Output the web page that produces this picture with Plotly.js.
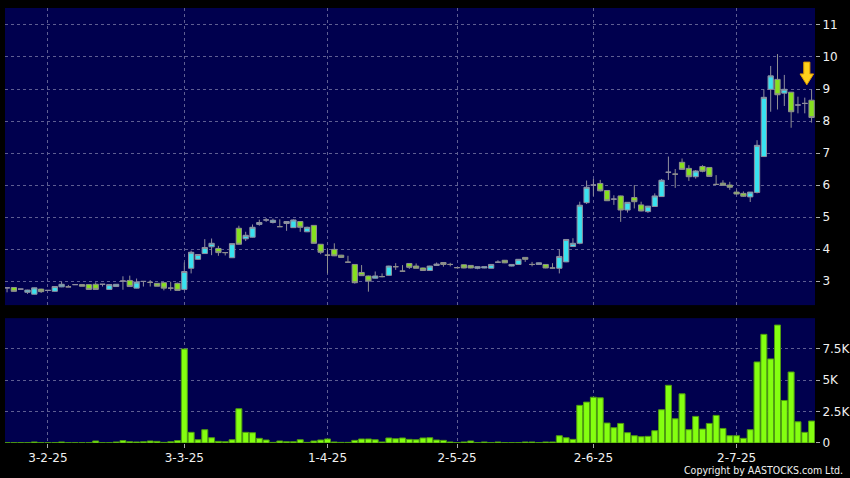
<!DOCTYPE html>
<html>
<head>
<meta charset="utf-8">
<script src="https://cdn.plot.ly/plotly-3.0.1.min.js"></script>
<style>html,body{margin:0;padding:0;background:#000;}#chart{width:850px;height:478px;}</style>
</head>
<body>
<div id="chart"></div>
<script>
// Daily OHLC (trading-day index 0..118)
const openP  = [2.79,2.80,2.75,2.65,2.59,2.75,2.71,2.68,2.82,2.82,2.89,2.89,2.89,2.90,2.90,2.74,2.83,3.00,3.02,2.78,
                2.99,2.96,2.93,2.95,2.78,2.93,2.74,3.40,3.68,3.86,4.07,4.02,3.89,3.73,4.65,4.32,4.37,4.77,4.91,4.83,
                4.70,4.80,4.67,4.86,4.54,4.74,4.15,3.81,3.99,3.81,3.59,3.52,3.27,3.16,3.09,3.14,3.18,3.45,3.31,3.55,
                3.47,3.41,3.33,3.49,3.58,3.52,3.42,3.51,3.49,3.40,3.41,3.40,3.59,3.65,3.47,3.52,3.74,3.52,3.52,3.52,
                3.41,3.40,3.60,4.08,4.18,5.45,6.00,6.05,5.83,5.56,5.66,5.22,5.61,5.38,5.17,5.33,5.64,6.40,6.34,6.71,
                6.52,6.26,6.58,6.55,6.02,6.06,6.00,5.78,5.74,5.63,5.77,6.89,8.99,9.30,8.87,8.90,8.50,8.55,8.65];
const highP  = [2.80,2.81,2.75,2.73,2.80,2.76,2.71,2.84,2.98,2.88,2.89,2.90,2.90,2.96,2.90,2.90,2.91,3.15,3.17,3.08,
                2.99,3.03,2.94,2.96,2.98,2.95,3.58,3.95,3.84,4.31,4.33,4.10,3.89,4.17,4.73,4.54,4.77,4.92,4.97,4.95,
                4.93,4.87,4.93,4.87,4.70,4.75,4.16,4.00,4.18,3.82,3.79,3.53,3.50,3.17,3.30,3.24,3.48,3.56,3.50,3.56,
                3.55,3.42,3.48,3.58,3.59,3.57,3.43,3.52,3.50,3.46,3.46,3.53,3.65,3.66,3.53,3.69,3.75,3.60,3.58,3.53,
                3.56,3.99,4.31,4.34,5.48,6.14,6.19,6.16,5.84,5.68,5.67,5.47,6.00,5.48,5.35,5.74,6.19,6.89,6.50,6.83,
                6.62,6.47,6.62,6.56,6.31,6.15,6.10,5.85,5.80,5.78,7.40,8.99,9.72,10.09,9.44,8.91,8.76,8.73,8.99];
const lowP   = [2.65,2.67,2.75,2.60,2.58,2.63,2.71,2.67,2.81,2.82,2.89,2.84,2.74,2.74,2.83,2.73,2.82,2.73,2.83,2.77,
                2.83,2.83,2.84,2.71,2.70,2.71,2.71,3.24,3.66,3.85,3.81,3.79,3.80,3.72,4.14,4.25,4.36,4.73,4.85,4.80,
                4.70,4.57,4.66,4.54,4.53,4.17,3.84,3.24,3.78,3.72,3.59,2.92,3.16,2.67,3.08,3.12,3.17,3.35,3.31,3.38,
                3.40,3.32,3.32,3.48,3.45,3.46,3.41,3.40,3.40,3.37,3.40,3.39,3.59,3.56,3.46,3.51,3.60,3.46,3.51,3.40,
                3.40,3.24,3.59,4.07,4.15,5.41,5.66,5.80,5.50,5.38,4.85,5.14,5.27,5.18,5.13,5.32,5.63,6.16,5.91,6.48,
                6.13,6.20,6.40,6.26,6.00,5.98,5.85,5.70,5.63,5.47,5.74,6.88,8.29,8.36,8.47,7.79,8.24,8.24,7.95];
const closeP = [2.79,2.68,2.75,2.72,2.79,2.67,2.71,2.83,2.90,2.82,2.89,2.84,2.74,2.74,2.90,2.89,2.90,3.00,2.83,2.97,
                2.99,2.96,2.84,2.78,2.78,2.71,3.30,3.90,3.83,4.05,4.18,3.89,3.89,4.17,4.15,4.43,4.68,4.83,4.91,4.90,
                4.70,4.86,4.91,4.68,4.68,4.18,3.90,3.81,3.79,3.74,3.59,2.95,3.17,3.00,3.16,3.14,3.47,3.45,3.31,3.43,
                3.40,3.33,3.47,3.53,3.52,3.52,3.42,3.41,3.41,3.45,3.45,3.52,3.59,3.57,3.52,3.68,3.68,3.52,3.57,3.41,
                3.41,3.77,4.30,4.18,5.37,5.93,6.00,5.82,5.51,5.56,5.22,5.46,5.48,5.19,5.34,5.66,6.15,6.40,6.34,6.49,
                6.26,6.44,6.43,6.27,6.02,5.99,5.93,5.72,5.65,5.78,7.24,8.74,9.41,8.82,8.99,8.29,8.50,8.55,8.11];
// Daily volume (shares)
const volume = [20,20,30,20,80,20,20,30,80,20,20,20,20,160,20,20,80,190,100,80,
                100,160,130,50,100,190,7490,850,260,1060,420,130,100,260,2730,850,820,370,240,50,
                160,100,100,260,50,160,240,320,80,50,50,210,320,320,260,80,400,340,400,290,
                260,400,420,240,210,80,30,80,160,30,80,30,80,30,30,30,80,80,30,80,
                80,580,420,290,3000,3260,3650,3600,1590,1220,1560,820,580,500,530,980,2650,4600,1930,3920,
                1060,2120,1110,1560,2200,1160,580,580,370,1060,6460,8660,6700,9400,3390,5660,1690,850,1750];
// Axis ticks
const dateTickIdx  = [6,26,47,66,86,107];
const dateTickText = ['3-2-25','3-3-25','1-4-25','2-5-25','2-6-25','2-7-25'];
const priceTicks   = [3,4,5,6,7,8,9,10,11];
const volTickVals  = [0,2500,5000,7500];
const volTickText  = ['0','2.5K','5K','7.5K'];

const dayIdx = openP.map((_, i) => i);

const gridCol = '#5e5e92';
const font = {family: 'DejaVu Sans, sans-serif', size: 12, color: '#f0f0f0'};

const candles = {
  type: 'candlestick', x: dayIdx, open: openP, high: highP, low: lowP, close: closeP,
  xaxis: 'x', yaxis: 'y',
  increasing: {line: {color: '#8f8f9f', width: 1}, fillcolor: '#38e2f0'},
  decreasing: {line: {color: '#8f8f8f', width: 1}, fillcolor: '#86e01e'},
  whiskerwidth: 0, hoverinfo: 'skip'
};
const vols = {
  type: 'bar', x: dayIdx, y: volume, xaxis: 'x', yaxis: 'y2',
  marker: {color: '#84ff10', line: {color: '#4f9c10', width: 1}},
  hoverinfo: 'skip'
};

// decorative yellow arrow above the last candle
const last = dayIdx.length - 1;
const ax = last - 0.7, tip = 9.13, neck = 9.47, topA = 9.84;
const arrowPath = `M ${ax-0.45} ${topA} L ${ax+0.45} ${topA} L ${ax+0.45} ${neck} L ${ax+1.0} ${neck} L ${ax} ${tip} L ${ax-1.0} ${neck} L ${ax-0.45} ${neck} Z`;

const layout = {
  width: 850, height: 478,
  paper_bgcolor: '#000000', plot_bgcolor: '#00004e',
  margin: {l: 5, r: 35, t: 8, b: 35},
  showlegend: false, hovermode: false, bargap: 0.12,
  boxgap: 0.12, boxgroupgap: 0.12,
  font: font,
  xaxis: {
    range: [-0.3, 118.5], anchor: 'y2', rangeslider: {visible: false},
    tickmode: 'array', tickvals: dateTickIdx, ticktext: dateTickText,
    ticks: 'outside', ticklen: 4, tickcolor: '#aaaaaa',
    showgrid: true, gridcolor: gridCol, griddash: '3px,3px', gridwidth: 1,
    zeroline: false, showline: false, tickfont: font
  },
  yaxis: {
    domain: [0.317, 1], range: [2.25, 11.53], side: 'right',
    tickmode: 'array', tickvals: priceTicks,
    ticks: 'outside', ticklen: 4, tickcolor: '#aaaaaa',
    showgrid: true, gridcolor: gridCol, griddash: '3px,3px', gridwidth: 1,
    zeroline: false, showline: false, tickfont: font
  },
  yaxis2: {
    domain: [0, 0.287], range: [0, 9950], side: 'right', anchor: 'x',
    tickmode: 'array', tickvals: volTickVals, ticktext: volTickText,
    ticks: 'outside', ticklen: 4, tickcolor: '#aaaaaa',
    showgrid: true, gridcolor: gridCol, griddash: '3px,3px', gridwidth: 1,
    zeroline: false, showline: false, tickfont: font
  },
  shapes: [{
    type: 'path', xref: 'x', yref: 'y', path: arrowPath,
    fillcolor: '#ffd21c', line: {color: '#e09a00', width: 1}
  }],
  annotations: [{
    xref: 'paper', yref: 'paper', x: 1.037, y: -0.062, xanchor: 'right', yanchor: 'middle',
    text: 'Copyright by AASTOCKS.com Ltd.', showarrow: false,
    font: {family: 'DejaVu Sans Condensed, DejaVu Sans, sans-serif', size: 10.5, color: '#f0f0f0'}
  }]
};

Plotly.newPlot('chart', [candles, vols], layout, {staticPlot: true, displayModeBar: false});
</script>
</body>
</html>
